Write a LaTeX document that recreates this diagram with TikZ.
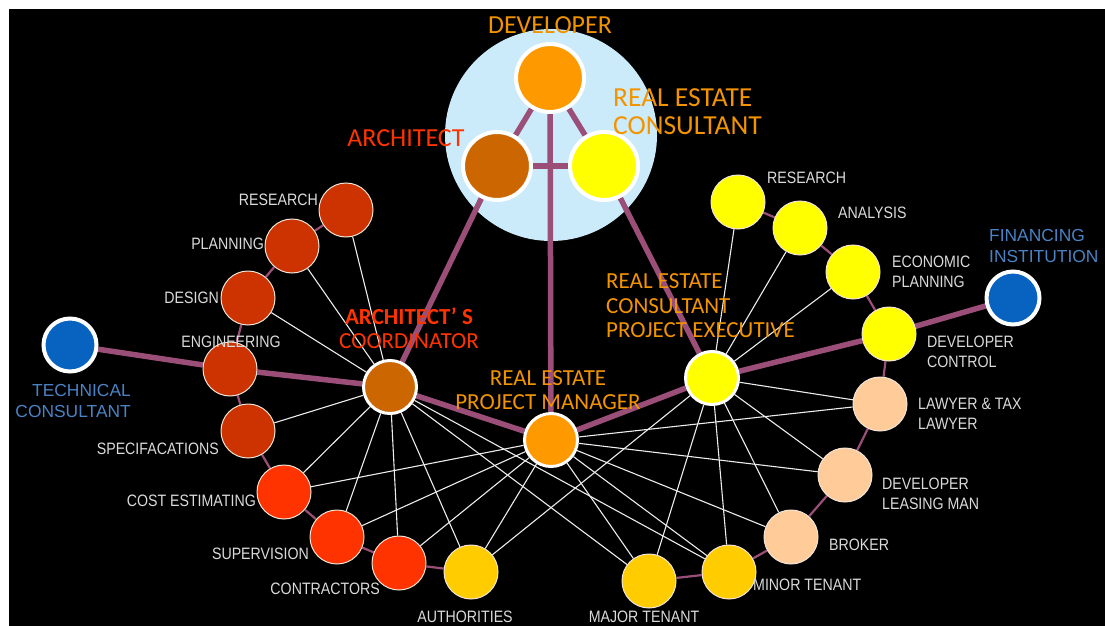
\documentclass[tikz,border=0pt]{standalone}
\usepackage{fontspec}
\setmainfont{Liberation Sans}
\newfontfamily\lblfont[FakeStretch=0.86]{Liberation Sans}
\newfontfamily\bluefont{Liberation Sans}
\newfontfamily\calfont{Carlito}
\pgfdeclarelayer{back}
\pgfdeclarelayer{edges}
\pgfsetlayers{back,edges,main}
\definecolor{bubble}{HTML}{CCEBFA}
\definecolor{mauve}{HTML}{9A4E78}
\definecolor{brick}{HTML}{CC3300}
\definecolor{redor}{HTML}{FF3300}
\definecolor{gold}{HTML}{FFCC00}
\definecolor{peach}{HTML}{FFCC99}
\definecolor{yel}{HTML}{FFFF00}
\definecolor{orng}{HTML}{FF9900}
\definecolor{archc}{HTML}{CC6600}
\definecolor{bluen}{HTML}{0863C0}
\definecolor{bluet}{HTML}{4A82C4}
\definecolor{lblc}{HTML}{DADADA}
\definecolor{orlbl}{HTML}{F29400}
\definecolor{redlbl}{HTML}{FF3300}
\tikzset{
  small/.style={circle, inner sep=0pt, minimum size=54pt, draw=white!80!brown, line width=1pt},
  hub/.style={circle, inner sep=0pt, minimum size=53pt, draw=white, line width=3pt},
  big/.style={circle, inner sep=0pt, minimum size=68pt, draw=white, line width=4pt},
  ext/.style={circle, inner sep=0pt, minimum size=53pt, draw=white, line width=4pt, fill=bluen},
  thick link/.style={draw=mauve, line width=5.5pt},
  chain/.style={draw=mauve, line width=2.2pt},
  wire/.style={draw=white!85!gray, line width=1.1pt},
  lbl/.style={inner sep=0pt, text=lblc, font=\lblfont\fontsize{16.5}{20.5}\selectfont},
  bluelbl/.style={inner sep=0pt, text=bluet, font=\bluefont\fontsize{17.4}{21.5}\selectfont},
  biglbl/.style={inner sep=0pt, font=\calfont\fontsize{26}{28}\selectfont},
  midlbl/.style={inner sep=0pt, font=\calfont\fontsize{23}{24.5}\selectfont}
}
\begin{document}
\begin{tikzpicture}[x=1pt,y=-1pt]
\useasboundingbox (0,0) rectangle (1105,626);
\begin{pgfonlayer}{back}
\fill[white] (0,0) rectangle (1105,626);
\fill[black] (9,9) rectangle (1105,626);
\fill[bubble] (551,135) circle[radius=106pt];
\end{pgfonlayer}

% top three
\node[big, fill=orng] (dev) at (550,78) {};
\node[big, fill=archc] (arch) at (497,166) {};
\node[big, fill=yel] (rec) at (604,166) {};
% hubs
\node[hub, fill=archc] (ac) at (390,387) {};
\node[hub, fill=orng] (repm) at (551,440) {};
\node[hub, fill=yel] (recpe) at (712,378) {};
% left chain
\node[small, fill=brick] (lres) at (346,210) {};
\node[small, fill=brick] (lplan) at (292,246) {};
\node[small, fill=brick] (ldes) at (248,298) {};
\node[small, fill=brick] (leng) at (230,369) {};
\node[small, fill=brick] (lspec) at (248,431) {};
\node[small, fill=redor] (lcost) at (284,492) {};
\node[small, fill=redor] (lsup) at (337,537) {};
\node[small, fill=redor] (lcon) at (399,563) {};
\node[small, fill=gold] (auth) at (471,572) {};
% right chain
\node[small, fill=gold] (major) at (649,581) {};
\node[small, fill=gold] (minor) at (729,572) {};
\node[small, fill=peach] (broker) at (791,537) {};
\node[small, fill=peach] (dlm) at (845,475) {};
\node[small, fill=peach] (lawyer) at (880,404) {};
\node[small, fill=yel] (dctrl) at (889,334) {};
\node[small, fill=yel] (econ) at (853,272) {};
\node[small, fill=yel] (anal) at (800,228) {};
\node[small, fill=yel] (rres) at (738,202) {};
% external
\node[ext] (tech) at (70,345) {};
\node[ext] (fin) at (1013,298) {};

\begin{pgfonlayer}{edges}
% thin white wires
\foreach \t in {lres,lplan,ldes,lspec,lcost,lsup,lcon,auth,major,minor}
  \draw[wire] (ac) -- (\t);
\foreach \t in {lcost,lsup,lcon,auth,major,minor,broker,dlm,lawyer}
  \draw[wire] (repm) -- (\t);
\foreach \t in {rres,anal,econ,lawyer,dlm,broker,minor,major,auth}
  \draw[wire] (recpe) -- (\t);
% chains
\draw[chain] (lres) -- (lplan) -- (ldes) -- (leng) -- (lspec) -- (lcost) -- (lsup) -- (lcon) -- (auth);
\draw[chain] (major) -- (minor) -- (broker) -- (dlm) -- (lawyer) -- (dctrl) -- (econ) -- (anal) -- (rres);
% thick links
\draw[thick link] (dev) -- (arch);
\draw[thick link] (dev) -- (rec);
\draw[thick link] (arch) -- (rec);
\draw[thick link] (dev) -- (repm);
\draw[thick link] (arch) -- (ac);
\draw[thick link] (rec) -- (recpe);
\draw[thick link] (ac) -- (repm);
\draw[thick link] (repm) -- (recpe);
\draw[thick link] (tech) -- (leng);
\draw[thick link] (leng) -- (ac);
\draw[thick link] (recpe) -- (dctrl);
\draw[thick link] (dctrl) -- (fin);
\end{pgfonlayer}

% grey labels
\node[lbl, anchor=east] (tlres) at (318,200) {RESEARCH};
\node[lbl, anchor=east] (tlplan) at (264,244) {PLANNING};
\node[lbl, anchor=east] (tldes) at (219,298) {DESIGN};
\node[lbl] (tleng) at (231,342) {ENGINEERING};
\node[lbl, anchor=east] (tlspec) at (219,449) {SPECIFACATIONS};
\node[lbl, anchor=east] (tlcost) at (256,501) {COST ESTIMATING};
\node[lbl, anchor=east] (tlsup) at (309,554) {SUPERVISION};
\node[lbl, anchor=east] (tlcon) at (380,589) {CONTRACTORS};
\node[lbl] (tauth) at (465,617) {AUTHORITIES};
\node[lbl] (tmajor) at (644,617) {MAJOR TENANT};
\node[lbl, anchor=west] (tminor) at (753,585) {MINOR TENANT};
\node[lbl, anchor=west] (tbroker) at (829,545) {BROKER};
\node[lbl, anchor=west, align=left] (tdlm) at (882,494) {DEVELOPER\\LEASING MAN};
\node[lbl, anchor=west, align=left] (tlawyer) at (918,414) {LAWYER \& TAX\\LAWYER};
\node[lbl, anchor=west, align=left] (tdctrl) at (927,352) {DEVELOPER\\CONTROL};
\node[lbl, anchor=west, align=left] (tecon) at (892,272) {ECONOMIC\\PLANNING};
\node[lbl, anchor=west] (tanal) at (838,213) {ANALYSIS};
\node[lbl, anchor=west] (trres) at (767,178) {RESEARCH};
% blue labels
\node[bluelbl, anchor=east, align=right] (ttech) at (131,401) {TECHNICAL\\CONSULTANT};
\node[bluelbl, anchor=west, align=left] (tfin) at (989,246) {FINANCING\\INSTITUTION};
% coloured labels
\node[biglbl, text=orlbl] (tdev) at (550,25) {DEVELOPER};
\node[biglbl, text=redlbl] (tarch) at (406,138) {ARCHITECT};
\node[biglbl, text=orlbl, anchor=west, align=left, font=\calfont\fontsize{27.5}{28}\selectfont] (trec) at (613,112) {REAL ESTATE\\CONSULTANT};
\node[midlbl, text=redlbl, align=center] (tac) at (409,328) {\bfseries ARCHITECT’\ S\\COORDINATOR};
\node[midlbl, text=orlbl, align=center] (trepm) at (548,390) {REAL ESTATE\\PROJECT MANAGER};
\node[midlbl, text=orlbl, anchor=west, align=left] (trecpe) at (606,306) {REAL ESTATE\\CONSULTANT\\PROJECT EXECUTIVE};
\end{tikzpicture}
\end{document}
